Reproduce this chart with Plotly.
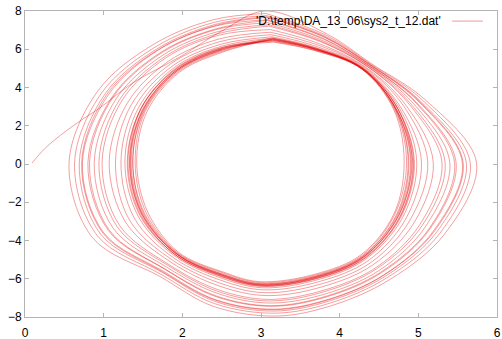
import plotly.graph_objects as go

# Phase-plane trajectory read from sys2_t_12.dat, split into revolutions.
# Each revolution is listed clockwise from the top of the orbit.
start_path = [(0.09, 0.05), (0.25, 0.80), (0.45, 1.50), (0.70, 2.25), (0.95, 2.93),
              (1.37, 4.24), (1.97, 5.60), (2.50, 6.95)]

rev_01 = [(3.05, 8.00), (3.83, 6.82), (4.41, 5.23), (5.09, 3.35), (5.74, 0.05), (5.33, -3.68),
          (4.63, -6.06), (3.90, -7.40), (3.20, -7.95), (2.40, -7.45), (1.71, -5.87), (0.86, -3.86),
          (0.56, 0.05), (0.93, 3.84), (1.64, 6.27), (2.40, 7.55)]
rev_02 = [(3.06, 7.87), (3.82, 6.75), (4.40, 5.21), (5.06, 3.31), (5.66, 0.05), (5.28, -3.59),
          (4.60, -5.95), (3.88, -7.27), (3.18, -7.80), (2.41, -7.30), (1.73, -5.77), (0.92, -3.75),
          (0.63, 0.05), (0.98, 3.75), (1.67, 6.15), (2.41, 7.41)]
rev_03 = [(3.07, 7.76), (3.81, 6.69), (4.39, 5.19), (5.03, 3.27), (5.61, 0.06), (5.24, -3.52),
          (4.58, -5.87), (3.87, -7.16), (3.17, -7.69), (2.42, -7.19), (1.75, -5.68), (0.96, -3.66),
          (0.69, 0.06), (1.02, 3.68), (1.69, 6.05), (2.42, 7.30)]
rev_04 = [(3.07, 7.70), (3.80, 6.66), (4.39, 5.18), (5.02, 3.25), (5.57, 0.06), (5.21, -3.48),
          (4.56, -5.82), (3.86, -7.10), (3.16, -7.62), (2.42, -7.12), (1.75, -5.64), (0.99, -3.61),
          (0.72, 0.06), (1.04, 3.64), (1.70, 6.00), (2.42, 7.24)]
rev_05 = [(3.07, 7.67), (3.80, 6.64), (4.38, 5.18), (5.01, 3.24), (5.56, 0.06), (5.20, -3.46),
          (4.56, -5.80), (3.86, -7.07), (3.16, -7.59), (2.42, -7.09), (1.76, -5.61), (1.00, -3.59),
          (0.73, 0.06), (1.06, 3.62), (1.70, 5.97), (2.42, 7.21)]
rev_06 = [(3.08, 7.54), (3.79, 6.57), (4.37, 5.15), (4.98, 3.20), (5.48, 0.07), (5.15, -3.38),
          (4.53, -5.69), (3.84, -6.94), (3.14, -7.44), (2.43, -6.94), (1.78, -5.51), (1.06, -3.48),
          (0.80, 0.07), (1.11, 3.52), (1.73, 5.85), (2.43, 7.07)]
rev_07 = [(3.08, 7.51), (3.78, 6.55), (4.37, 5.15), (4.97, 3.19), (5.46, 0.07), (5.14, -3.36),
          (4.52, -5.66), (3.83, -6.91), (3.13, -7.41), (2.44, -6.91), (1.78, -5.49), (1.07, -3.45),
          (0.82, 0.07), (1.12, 3.50), (1.74, 5.82), (2.44, 7.04)]
rev_08 = [(3.09, 7.39), (3.77, 6.48), (4.36, 5.13), (4.94, 3.15), (5.40, 0.07), (5.09, -3.28),
          (4.50, -5.57), (3.82, -6.79), (3.12, -7.27), (2.45, -6.77), (1.80, -5.39), (1.12, -3.35),
          (0.88, 0.07), (1.16, 3.42), (1.76, 5.71), (2.45, 6.92)]
rev_09 = [(3.10, 7.28), (3.76, 6.43), (4.35, 5.11), (4.91, 3.12), (5.34, 0.07), (5.05, -3.21),
          (4.47, -5.48), (3.80, -6.68), (3.10, -7.16), (2.45, -6.66), (1.82, -5.31), (1.17, -3.27),
          (0.94, 0.07), (1.20, 3.35), (1.78, 5.62), (2.45, 6.81)]
rev_10 = [(3.10, 7.21), (3.76, 6.39), (4.35, 5.10), (4.89, 3.09), (5.30, 0.08), (5.02, -3.16),
          (4.46, -5.42), (3.79, -6.61), (3.09, -7.08), (2.46, -6.58), (1.83, -5.26), (1.20, -3.20),
          (0.98, 0.08), (1.23, 3.30), (1.79, 5.55), (2.46, 6.73)]
rev_11 = [(3.12, 7.03), (3.74, 6.29), (4.33, 5.07), (4.85, 3.03), (5.19, 0.08), (4.95, -3.04),
          (4.42, -5.28), (3.77, -6.43), (3.07, -6.88), (2.47, -6.38), (1.85, -5.12), (1.28, -3.05),
          (1.07, 0.08), (1.30, 3.18), (1.83, 5.39), (2.47, 6.54)]
rev_12 = [(3.12, 6.89), (3.73, 6.21), (4.32, 5.05), (4.82, 2.99), (5.12, 0.09), (4.89, -2.96),
          (4.39, -5.17), (3.75, -6.29), (3.05, -6.73), (2.48, -6.23), (1.87, -5.01), (1.33, -2.94),
          (1.15, 0.09), (1.35, 3.09), (1.86, 5.26), (2.48, 6.40)]
rev_13 = [(3.13, 6.76), (3.71, 6.14), (4.31, 5.02), (4.78, 2.94), (5.04, 0.09), (4.84, -2.87),
          (4.36, -5.06), (3.73, -6.16), (3.03, -6.58), (2.49, -6.08), (1.89, -4.91), (1.39, -2.83),
          (1.22, 0.09), (1.40, 2.99), (1.88, 5.14), (2.49, 6.26)]
rev_14 = [(3.14, 6.65), (3.70, 6.08), (4.30, 5.01), (4.76, 2.91), (4.98, 0.10), (4.80, -2.80),
          (4.33, -4.98), (3.72, -6.05), (3.02, -6.47), (2.50, -5.97), (1.91, -4.83), (1.44, -2.74),
          (1.27, 0.10), (1.44, 2.92), (1.90, 5.05), (2.50, 6.16)]
rev_15 = [(3.15, 6.58), (3.70, 6.04), (4.30, 4.99), (4.74, 2.88), (4.94, 0.10), (4.77, -2.75),
          (4.32, -4.92), (3.71, -5.98), (3.01, -6.38), (2.50, -5.88), (1.92, -4.77), (1.47, -2.68),
          (1.31, 0.10), (1.47, 2.87), (1.92, 4.98), (2.50, 6.08)]
rev_16 = [(3.15, 6.52), (3.69, 6.01), (4.29, 4.98), (4.72, 2.86), (4.91, 0.10), (4.75, -2.71),
          (4.30, -4.87), (3.70, -5.92), (3.00, -6.32), (2.51, -5.82), (1.93, -4.72), (1.49, -2.63),
          (1.34, 0.10), (1.49, 2.83), (1.93, 4.92), (2.51, 6.02)]
rev_17 = [(3.15, 6.46), (3.69, 5.98), (4.29, 4.97), (4.71, 2.85), (4.87, 0.10), (4.72, -2.67),
          (4.29, -4.82), (3.69, -5.86), (2.99, -6.25), (2.51, -5.75), (1.94, -4.68), (1.52, -2.58),
          (1.37, 0.10), (1.52, 2.79), (1.94, 4.87), (2.51, 5.95)]
rev_18 = [(3.14, 6.59), (3.70, 6.05), (4.30, 4.99), (4.74, 2.89), (4.95, 0.10), (4.78, -2.76),
          (4.32, -4.93), (3.71, -5.99), (3.01, -6.40), (2.50, -5.90), (1.92, -4.78), (1.46, -2.69),
          (1.30, 0.10), (1.47, 2.88), (1.91, 4.99), (2.50, 6.09)]
rev_19 = [(3.16, 6.41), (3.68, 5.95), (4.28, 4.97), (4.70, 2.83), (4.85, 0.10), (4.70, -2.64),
          (4.28, -4.79), (3.69, -5.81), (2.99, -6.20), (2.52, -5.70), (1.94, -4.64), (1.54, -2.55),
          (1.40, 0.10), (1.53, 2.76), (1.95, 4.83), (2.52, 5.91)]
rev_20 = [(3.15, 6.53), (3.69, 6.02), (4.29, 4.99), (4.73, 2.95), (4.92, 0.20), (4.76, -2.62),
          (4.31, -4.85), (3.70, -5.93), (3.00, -6.33), (2.51, -5.83), (1.93, -4.80), (1.49, -2.72),
          (1.33, 0.00), (1.49, 2.74), (1.92, 4.88), (2.51, 6.03)]
rev_21 = [(3.16, 6.37), (3.68, 5.93), (4.28, 4.96), (4.69, 2.82), (4.82, 0.10), (4.69, -2.61),
          (4.27, -4.75), (3.68, -5.77), (2.98, -6.15), (2.52, -5.65), (1.95, -4.61), (1.56, -2.51),
          (1.42, 0.10), (1.55, 2.73), (1.96, 4.79), (2.52, 5.86)]
rev_22 = [(3.15, 6.55), (3.69, 6.02), (4.29, 4.96), (4.73, 2.78), (4.93, 0.00), (4.76, -2.80),
          (4.31, -4.90), (3.71, -5.95), (3.01, -6.35), (2.51, -5.86), (1.92, -4.68), (1.48, -2.56),
          (1.33, 0.20), (1.48, 2.92), (1.92, 4.95), (2.51, 6.05)]
rev_23 = [(3.15, 6.47), (3.69, 5.98), (4.29, 4.98), (4.71, 2.85), (4.88, 0.10), (4.73, -2.68),
          (4.29, -4.84), (3.70, -5.87), (3.00, -6.27), (2.51, -5.77), (1.93, -4.69), (1.51, -2.60),
          (1.37, 0.10), (1.51, 2.80), (1.94, 4.88), (2.51, 5.97)]
rev_24 = [(3.15, 6.50), (3.69, 6.00), (4.29, 4.98), (4.72, 2.86), (4.90, 0.10), (4.74, -2.70),
          (4.30, -4.86), (3.70, -5.90), (3.00, -6.30), (2.51, -5.80), (1.93, -4.71), (1.50, -2.62),
          (1.35, 0.10), (1.50, 2.82), (1.93, 4.91), (2.51, 6.00)]

revolutions = [rev_01, rev_02, rev_03, rev_04, rev_05, rev_06, rev_07, rev_08,
               rev_09, rev_10, rev_11, rev_12, rev_13, rev_14, rev_15, rev_16,
               rev_17, rev_18, rev_19, rev_20, rev_21, rev_22, rev_23, rev_24]

series_name = "'D:\\temp\\DA_13_06\\sys2_t_12.dat'"
line_color = "rgba(225, 0, 0, 0.42)"
axis_gray = "#b4b4b4"
font_family = "Liberation Sans, Arial, sans-serif"

fig = go.Figure()

# one trace per revolution so that overlapping passes darken, each joined
# to the first point of the following revolution
for i, rev in enumerate(revolutions):
    pts = list(rev)
    if i == 0:
        pts = start_path + pts
    if i + 1 < len(revolutions):
        pts = pts + [revolutions[i + 1][0]]
    fig.add_trace(go.Scatter(
        x=[p[0] for p in pts], y=[p[1] for p in pts],
        mode="lines", line=dict(color=line_color, width=0.9, shape="spline", smoothing=1.0),
        showlegend=False, hoverinfo="skip",
    ))

# gnuplot-style key: title text followed by a line sample
fig.add_annotation(
    x=0.8856, y=0.967, xref="paper", yref="paper", xanchor="right", yanchor="middle",
    text=series_name, showarrow=False,
    font=dict(family=font_family, size=12, color="black"),
)
fig.add_shape(
    type="line", xref="paper", yref="paper", x0=0.905, x1=0.970, y0=0.967, y1=0.967,
    line=dict(color=line_color, width=1),
)

axis_common = dict(
    showline=True, linecolor=axis_gray, linewidth=1, mirror="ticks",
    ticks="inside", ticklen=4, tickcolor=axis_gray, tickwidth=1,
    showgrid=False, zeroline=False, automargin=False,
    tickfont=dict(family=font_family, size=12, color="black"),
)

fig.update_xaxes(range=[0, 6], dtick=1, ticklabelstandoff=5, **axis_common)
fig.update_yaxes(range=[-8, 8], dtick=2, **axis_common)

fig.update_layout(
    width=502, height=339,
    margin=dict(l=25, r=5, t=11, b=22),
    plot_bgcolor="white", paper_bgcolor="white",
    showlegend=False,
)

fig.write_html("out.html")
